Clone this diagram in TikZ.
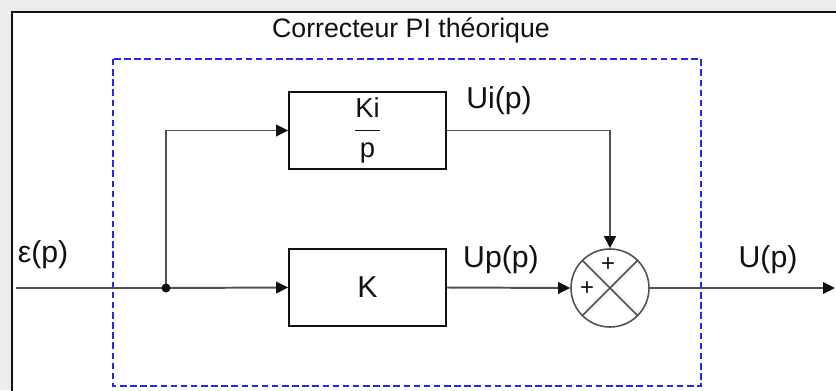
\documentclass[tikz,border=0pt]{standalone}
\usepackage{fontspec}
\setmainfont{Liberation Sans}
\usetikzlibrary{arrows.meta}
\definecolor{figink}{HTML}{111111}
\definecolor{figline}{HTML}{505050}
\definecolor{figblue}{HTML}{2626F2}
\definecolor{figshade}{HTML}{ECECEC}

\begin{document}
\begin{tikzpicture}[
  x=0.025cm,y=-0.025cm,
  draw=figink,text=figink,
  line width=1.1pt,
  >={Triangle[length=3mm,width=2.9mm,color=figink]},
  every node/.style={font=\fontsize{21.5}{24}\selectfont},
  block/.style={draw,minimum width=3.93cm,minimum height=1.93cm,
    inner sep=2pt,fill=white},
  sum/.style={draw=figline,circle,minimum size=1.95cm,inner sep=0pt},
  signal/.style={draw=figline,line width=1.4pt},
  sig/.style={inner sep=1pt},
  sign/.style={font=\fontsize{17}{19}\selectfont,inner sep=0pt},
  corrector/.style={draw=figblue,line width=1.1pt,dash pattern=on 4.6pt off 2.6pt}
]
\useasboundingbox (0,0) rectangle (836,390);
\clip (0,0) rectangle (836,390);

% Frame of the window.
\fill[figshade] (0,0) rectangle (836,390);
\fill[white] (12,12) rectangle (900,450);
\draw[line width=1.5pt] (12,12) rectangle (900,450);

% Boundary of the corrector.
\draw[corrector] (113,59) rectangle (701,386);
\node[font=\fontsize{19}{22}\selectfont] (title) at (411,30) {Correcteur PI théorique};

\node[block] (ki) at (367.5,130.5)
  {$\displaystyle\frac{\mbox{\fontsize{19.5}{21}\selectfont Ki}}{\mbox{\fontsize{19.5}{21}\selectfont p}}$};
\node[block] (k) at (367.5,287.5) {K};
\node[sum] (sum) at (610,288) {};
\draw[figline] (sum.north west) -- (sum.south east);
\draw[figline] (sum.north east) -- (sum.south west);
\node[sign] (ptop) at (608,265) {+};
\node[sign] (pleft) at (587,289) {+};

\coordinate (in) at (16,288);
\coordinate (split) at (166,288);
\coordinate (out) at (835,288);

% Proportional and integral branches.
\draw[signal] (in) -- (split);
\draw[signal,->] (split) -- (k.west);
\draw[signal,->] (split) |- (ki.west);
\fill[figink] (split) circle (3.2pt);
\draw[signal,->] (ki.east) -| (sum.north);
\draw[signal,->] (k.east) -- (sum.west);
\draw[signal,->] (sum.east) -- (out);

\node[sig] (eps) at (43,255) {ε(p)};
\node[sig] (ui) at (499,101) {Ui(p)};
\node[sig] (up) at (501,260) {Up(p)};
\node[sig] (u) at (768,260) {U(p)};

\end{tikzpicture}
\end{document}
